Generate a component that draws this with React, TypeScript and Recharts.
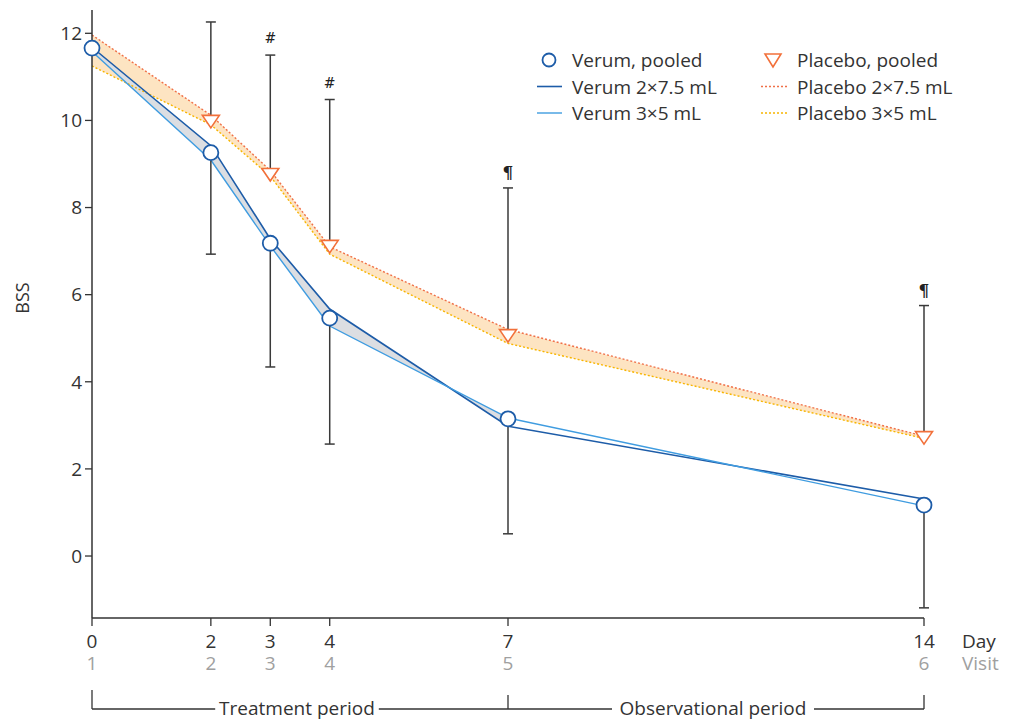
import React from 'react';
import { ComposedChart, Line, Area, XAxis, YAxis, ErrorBar, LabelList, Legend } from 'recharts';

// ---- data ----
const days = [0, 2, 3, 4, 7, 14];
const visits = [1, 2, 3, 4, 5, 6];
const verumPooled = [11.66, 9.26, 7.18, 5.46, 3.15, 1.17];
const verumPooledErr = [0, 2.33, 2.84, 2.89, 2.64, 2.36];
const placeboPooled: (number | null)[] = [null, 9.99, 8.77, 7.12, 5.07, 2.73];
const placeboPooledErr = [0, 2.27, 2.73, 3.36, 3.38, 3.02];
const verum2x75 = [11.68, 9.42, 7.28, 5.67, 2.98, 1.31];
const verum3x5 = [11.58, 9.09, 7.12, 5.28, 3.17, 1.15];
const placebo2x75 = [11.96, 10.12, 8.85, 7.1, 5.2, 2.75];
const placebo3x5 = [11.25, 9.9, 8.72, 6.93, 4.88, 2.7];
const marks = ['', '', '#', '#', '¶', '¶'];
const verumBandLastDay = 7;
const yTicks = [0, 2, 4, 6, 8, 10, 12];
const periodBounds = [0, 7, 14];
const periodNames = ['Treatment period', 'Observational period'];
const legendItems = [
  { label: 'Verum, pooled', col: 0, row: 0, kind: 'circle' },
  { label: 'Verum 2×7.5 mL', col: 0, row: 1, kind: 'v75' },
  { label: 'Verum 3×5 mL', col: 0, row: 2, kind: 'v35' },
  { label: 'Placebo, pooled', col: 1, row: 0, kind: 'tri' },
  { label: 'Placebo 2×7.5 mL', col: 1, row: 1, kind: 'p75' },
  { label: 'Placebo 3×5 mL', col: 1, row: 2, kind: 'p35' },
];

// ---- style ----
const FONT = '"Open Sans", sans-serif';
const C_DARK = '#1d5ca8';
const C_LIGHT = '#3f9ce0';
const C_TRI = '#f2703a';
const C_RED = '#f07048';
const C_YEL = '#f7b500';
const C_GRAYBAND = '#dcdee2';
const C_ORBAND = '#fde4c2';
const C_AXIS = '#333';
const C_ERR = '#3a3a3a';
const C_VISIT = '#a0a0a0';

const data = days.map((d, i) => ({
  day: d,
  vp: verumPooled[i],
  vpErr: [verumPooledErr[i], 0],
  pp: placeboPooled[i],
  ppErr: [0, placeboPooledErr[i]],
  v75: verum2x75[i],
  v35: verum3x5[i],
  p75: placebo2x75[i],
  p35: placebo3x5[i],
  vBand: d <= verumBandLastDay ? [verum3x5[i], verum2x75[i]] : null,
  pBand: [placebo3x5[i], placebo2x75[i]],
  markY: placeboPooled[i] == null ? null : (placeboPooled[i] as number) + placeboPooledErr[i],
  mark: marks[i],
}));

const periodMids = periodNames.map((_, i) => (periodBounds[i] + periodBounds[i + 1]) / 2);
const periodTicks = [...periodBounds, ...periodMids].sort((a, b) => a - b);

const Tri = (props: any) => {
  const { cx, cy } = props;
  if (cx == null || cy == null || isNaN(cy)) return <g key={props.index} />;
  return (
    <path
      key={props.index}
      d={`M${cx - 8.5},${cy - 5.5} L${cx + 8.5},${cy - 5.5} L${cx},${cy + 7} Z`}
      fill="#fff"
      stroke={C_TRI}
      strokeWidth={1.6}
    />
  );
};

const DayTick = (props: any) => {
  const { x, y, payload } = props;
  const i = days.indexOf(payload.value);
  return (
    <text x={x} y={y + 22} textAnchor="middle" fontFamily={FONT} fontSize={19} fill={C_AXIS}>
      <tspan x={x}>{payload.value}</tspan>
      <tspan x={x} dy={22} fill={C_VISIT}>{visits[i]}</tspan>
    </text>
  );
};

const DayVisitLabel = (props: any) => {
  const vb = props.viewBox || {};
  const x = vb.x + vb.width + 38;
  const y = vb.y + 8;
  return (
    <text x={x} y={y + 22} fontFamily={FONT} fontSize={19} fill={C_AXIS}>
      <tspan x={x}>Day</tspan>
      <tspan x={x} dy={22} fill={C_VISIT}>Visit</tspan>
    </text>
  );
};

const PeriodTick = (props: any) => {
  const { x, y, payload } = props;
  const v = payload.value;
  const bi = periodBounds.indexOf(v);
  if (bi >= 0) {
    const len = bi === 0 ? 19 : 14;
    return <line x1={x} x2={x} y1={y - len} y2={y} stroke={C_AXIS} strokeWidth={1.3} />;
  }
  const pi = periodMids.indexOf(v);
  const label = periodNames[pi];
  const w = label.length * 9.6 + 10;
  const cx = x - 3;
  return (
    <g>
      <rect x={cx - w / 2} y={y - 4} width={w} height={8} fill="#fff" />
      <text x={cx} y={y + 6} textAnchor="middle" fontFamily={FONT} fontSize={19} fill={C_AXIS}>
        {label}
      </text>
    </g>
  );
};

const YLabel = (props: any) => {
  const vb = props.viewBox || {};
  const x = vb.x + 29;
  const y = vb.y + 288;
  return (
    <text x={x} y={y} transform={`rotate(-90 ${x} ${y})`} textAnchor="middle" fontFamily={FONT} fontSize={18} fill={C_AXIS}>
      BSS
    </text>
  );
};

const MarkLabel = (props: any) => {
  const { x, y, width, value } = props;
  if (!value || y == null || isNaN(y)) return null;
  const cx = x + (width || 0) / 2;
  const isP = value === '¶';
  return (
    <text
      x={cx}
      y={y - (isP ? 10 : 12)}
      textAnchor="middle"
      fontFamily='"DejaVu Serif", serif'
      fontSize={isP ? 17 : 14}
      fontWeight={isP ? 'bold' : 'normal'}
      fill="#222"
    >
      {value}
    </text>
  );
};

const LegendIcon = ({ kind, x, y }: any) => {
  switch (kind) {
    case 'circle':
      return <circle cx={x + 12} cy={y} r={6.5} fill="#fff" stroke={C_DARK} strokeWidth={1.8} />;
    case 'tri':
      return <path d={`M${x + 4},${y - 6} L${x + 20},${y - 6} L${x + 12},${y + 7} Z`} fill="#fff" stroke={C_TRI} strokeWidth={1.6} />;
    case 'v75':
      return <line x1={x} x2={x + 25} y1={y} y2={y} stroke={C_DARK} strokeWidth={1.6} />;
    case 'v35':
      return <line x1={x} x2={x + 25} y1={y} y2={y} stroke={C_LIGHT} strokeWidth={1.4} />;
    case 'p75':
      return <line x1={x} x2={x + 26} y1={y} y2={y} stroke={C_RED} strokeWidth={1.4} strokeDasharray="2 2" />;
    default:
      return <line x1={x} x2={x + 26} y1={y} y2={y} stroke={C_YEL} strokeWidth={1.4} strokeDasharray="2 2" />;
  }
};

const LegendContent = () => (
  <svg width={470} height={90} style={{ display: 'block' }}>
    {legendItems.map((it) => {
      const ix = it.col === 0 ? 7 : 231;
      const tx = it.col === 0 ? 42 : 267;
      const cy = 15 + it.row * 26.5;
      return (
        <g key={it.label}>
          <LegendIcon kind={it.kind} x={ix} y={cy} />
          <text x={tx} y={cy + 7} fontFamily={FONT} fontSize={19} fill={C_AXIS}>
            {it.label}
          </text>
        </g>
      );
    })}
  </svg>
);

export default function App() {
  return (
    <div style={{ position: 'absolute', left: 0, top: 0, width: 1015, height: 722, background: '#fff' }}>
      <ComposedChart width={1015} height={722} data={data} margin={{ top: 10, right: 91, bottom: 0, left: 0 }}>
        <XAxis
          dataKey="day"
          type="number"
          domain={[0, 14]}
          ticks={days}
          interval={0}
          height={91}
          tickSize={8}
          tickMargin={0}
          tickLine={{ stroke: C_AXIS, strokeWidth: 1.3 }}
          axisLine={{ stroke: C_AXIS, strokeWidth: 1.5 }}
          tick={<DayTick />}
          label={DayVisitLabel}
        />
        <XAxis
          xAxisId="period"
          dataKey="day"
          type="number"
          domain={[0, 14]}
          allowDataOverflow
          ticks={periodTicks}
          interval={0}
          height={13}
          tickSize={0}
          tickMargin={0}
          tickLine={false}
          axisLine={{ stroke: C_AXIS, strokeWidth: 1.3 }}
          tick={<PeriodTick />}
        />
        <YAxis
          type="number"
          domain={[-1.423, 12.535]}
          ticks={yTicks}
          interval={0}
          width={92}
          tickSize={7}
          tickMargin={3}
          tickLine={{ stroke: C_AXIS, strokeWidth: 1.3 }}
          axisLine={{ stroke: C_AXIS, strokeWidth: 1.5 }}
          tick={{ fontFamily: FONT, fontSize: 19, fill: C_AXIS }}
          label={YLabel}
        />
        <Legend
          layout="horizontal"
          verticalAlign="middle"
          align="center"
          wrapperStyle={{ top: 45, left: 530, width: 470, height: 90 }}
          content={<LegendContent />}
        />
        <Area dataKey="pBand" type="linear" stroke="none" fill={C_ORBAND} fillOpacity={1} isAnimationActive={false} dot={false} activeDot={false} />
        <Area dataKey="vBand" type="linear" stroke="none" fill={C_GRAYBAND} fillOpacity={1} isAnimationActive={false} dot={false} activeDot={false} />
        <Line dataKey="p75" type="linear" stroke={C_RED} strokeWidth={1.4} strokeDasharray="2 2" dot={false} activeDot={false} isAnimationActive={false} />
        <Line dataKey="p35" type="linear" stroke={C_YEL} strokeWidth={1.4} strokeDasharray="2 2" dot={false} activeDot={false} isAnimationActive={false} />
        <Line dataKey="v75" type="linear" stroke={C_DARK} strokeWidth={1.6} dot={false} activeDot={false} isAnimationActive={false} />
        <Line dataKey="v35" type="linear" stroke={C_LIGHT} strokeWidth={1.4} dot={false} activeDot={false} isAnimationActive={false} />
        <Line dataKey="markY" stroke="none" dot={false} activeDot={false} isAnimationActive={false}>
          <LabelList dataKey="mark" content={MarkLabel} />
        </Line>
        <Line dataKey="vp" stroke="none" isAnimationActive={false} activeDot={false} dot={{ r: 7.5, fill: '#fff', stroke: C_DARK, strokeWidth: 1.8 }}>
          <ErrorBar dataKey="vpErr" direction="y" width={5} stroke={C_ERR} strokeWidth={1.5} />
        </Line>
        <Line dataKey="pp" stroke="none" isAnimationActive={false} activeDot={false} dot={(p: any) => <Tri key={`t${p.index}`} {...p} />}>
          <ErrorBar dataKey="ppErr" direction="y" width={5} stroke={C_ERR} strokeWidth={1.5} />
        </Line>
      </ComposedChart>
    </div>
  );
}
